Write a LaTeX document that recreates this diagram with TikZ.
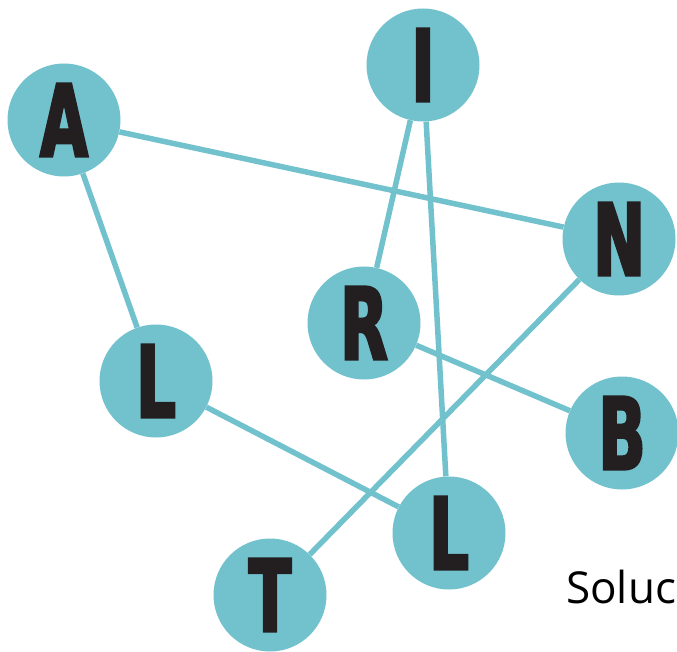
\documentclass[tikz,border=0pt]{standalone}
\usepackage{fontspec}
\usetikzlibrary{backgrounds}
\newfontfamily\letterfont[FakeStretch=0.62, BoldFeatures={FakeBold=2.5}]{DejaVu Sans}
\newfontfamily\solfont{Open Sans}
\definecolor{nodeblue}{HTML}{72C2CE}
\definecolor{letterdark}{HTML}{231F20}
\tikzset{
  letternode/.style={circle, fill=nodeblue, minimum size=113pt, inner sep=0pt,
    text=letterdark, font=\letterfont\bfseries\fontsize{100}{100}\selectfont},
  edge/.style={draw=nodeblue, line width=5.5pt}
}
\begin{document}
\begin{tikzpicture}[x=1pt,y=-1pt]
\useasboundingbox (0,0) rectangle (677,652);
\clip (0,0) rectangle (677,652);
\node[letternode] (A) at (64,120) {A};
\node[letternode] (I) at (423,65) {I};
\node[letternode] (N) at (619,239) {N};
\node[letternode] (R) at (364,323) {R};
\node[letternode] (L1) at (156,381) {L};
\node[letternode] (B) at (622,433) {B};
\node[letternode] (L2) at (449,533) {L};
\node[letternode] (T) at (270,595) {T};
\node[anchor=base west, inner sep=0pt, font=\solfont\fontsize{44}{44}\selectfont] (sol) at (566,603) {Soluc};
\begin{scope}[on background layer]
\draw[edge] (A) -- (N);
\draw[edge] (A) -- (L1);
\draw[edge] (I) -- (R);
\draw[edge] (I) -- (L2);
\draw[edge] (N) -- (T);
\draw[edge] (R) -- (B);
\draw[edge] (L1) -- (L2);
\end{scope}
\end{tikzpicture}
\end{document}
